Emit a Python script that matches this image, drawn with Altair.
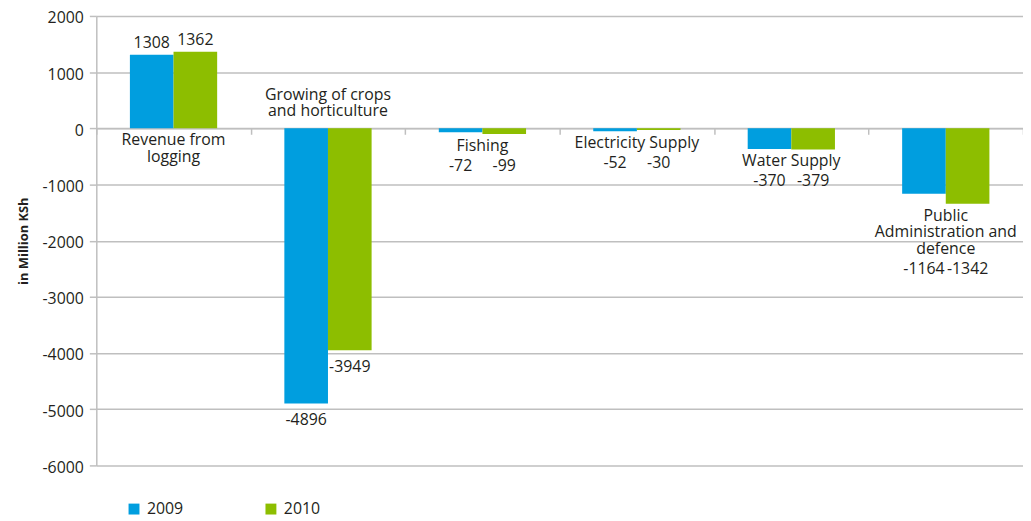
import altair as alt
import pandas as pd

categories = [
    "Revenue from\nlogging",
    "Growing of crops\nand horticulture",
    "Fishing",
    "Electricity Supply",
    "Water Supply",
    "Public\nAdministration and\ndefence",
]
years = ["2009", "2010"]
values_2009 = [1308, -4896, -72, -52, -370, -1164]
values_2010 = [1362, -3949, -99, -30, -379, -1342]

# where the category label sits: below the lowest bar end, or above the zero line
label_side = ["below", "above", "below", "below", "below", "below"]

rows = []
labels = []
for cat, a, b, side in zip(categories, values_2009, values_2010, label_side):
    low = min(0, a, b)
    nl = cat.count("\n") + 1
    labels.append({"category": cat, "side": side, "anchor": low, "nlines": nl})
    for yr, v in zip(years, [a, b]):
        rows.append({"category": cat, "year": yr, "value": v, "label": str(v),
                     "side": side, "anchor": low, "nlines": nl})
df = pd.DataFrame(rows)
ldf = pd.DataFrame(labels)

FONT = "Open Sans"
TXT = "#231F20"
GRID = "#BFBFBF"
FS = 16
LH = 17

xenc = alt.X("category:N", sort=categories,
             scale=alt.Scale(paddingInner=0, paddingOuter=0),
             axis=alt.Axis(labels=False, title=None, grid=False, tickBand="extent",
                           offset=-453 * 6 / 8, domainColor=GRID, domainWidth=1.5,
                           tickColor=GRID, tickWidth=1.5, tickSize=6))
xoff = alt.XOffset("year:N", sort=years,
                   scale=alt.Scale(paddingInner=0, paddingOuter=0.77))
yscale = alt.Scale(domain=[-6000, 2000], nice=False)

bars = alt.Chart(df).mark_bar().encode(
    x=xenc,
    xOffset=xoff,
    y=alt.Y("value:Q", scale=yscale,
            axis=alt.Axis(values=list(range(-6000, 2001, 1000)), title="in Million KSh",
                          labelExpr="'' + datum.value", labelOffset=2,
                          titleFontWeight="bold", titleFontSize=13, titleFont=FONT,
                          titleColor=TXT, titlePadding=12, labelFont=FONT,
                          labelFontSize=FS, labelColor=TXT, labelPadding=6,
                          tickSize=7, tickColor=GRID, tickWidth=1.5,
                          domainColor=GRID, domainWidth=1.5,
                          gridColor=GRID, gridWidth=1.5)),
    color=alt.Color("year:N", sort=years,
                    scale=alt.Scale(domain=years, range=["#009EDF", "#8DBE00"]),
                    legend=alt.Legend(title=None, orient="none", legendX=30, legendY=489,
                                      direction="horizontal", symbolType="square",
                                      symbolSize=121, symbolStrokeWidth=0,
                                      labelFont=FONT, labelFontSize=FS, labelColor=TXT,
                                      columnPadding=80, labelOffset=5, padding=0)),
)

text_base = dict(font=FONT, fontSize=FS, color=TXT, lineBreak="\n", lineHeight=LH)

cat_below = alt.Chart(ldf).transform_filter("datum.side == 'below'").mark_text(
    baseline="top", dy=4, **text_base).encode(
    x=alt.X("category:N", sort=categories), y=alt.Y("anchor:Q"), text="category:N")

layers = [bars, cat_below]
for n in sorted(set(ldf.loc[ldf["side"] == "above", "nlines"])):
    layers.append(
        alt.Chart(ldf).transform_filter(
            f"datum.side == 'above' && datum.nlines == {n}").mark_text(
            baseline="bottom", dy=-9 - LH * (n - 1), **text_base).encode(
            x=alt.X("category:N", sort=categories), y=alt.datum(0), text="category:N"))

val_pos = alt.Chart(df).transform_filter("datum.value > 0").mark_text(
    baseline="bottom", dy=-4, **text_base).encode(
    x=alt.X("category:N", sort=categories), xOffset=alt.XOffset("year:N", sort=years),
    y="value:Q", text="label:N")

val_own_neg = alt.Chart(df).transform_filter(
    "datum.value < 0 && datum.side == 'above'").mark_text(
    baseline="top", dy=9, **text_base).encode(
    x=alt.X("category:N", sort=categories), xOffset=alt.XOffset("year:N", sort=years),
    y="value:Q", text="label:N")

layers += [val_pos, val_own_neg]
for n in sorted(set(ldf["nlines"])):
    layers.append(
        alt.Chart(df).transform_filter(
            f"datum.value < 0 && datum.side == 'below' && datum.nlines == {n}").mark_text(
            baseline="top", dy=7 + LH * n, **text_base).encode(
            x=alt.X("category:N", sort=categories),
            xOffset=alt.XOffset("year:N", sort=years),
            y="anchor:Q", text="label:N"))

chart = alt.layer(*layers).properties(
    width=934, height=453,
    autosize=alt.AutoSizeParams(type="none"),
    padding={"left": 89, "top": 6, "right": 0, "bottom": 52},
).configure_view(stroke=None).configure_axis(labelFont=FONT)

chart.save("out.html", embed_options={"renderer": "svg", "actions": False})
